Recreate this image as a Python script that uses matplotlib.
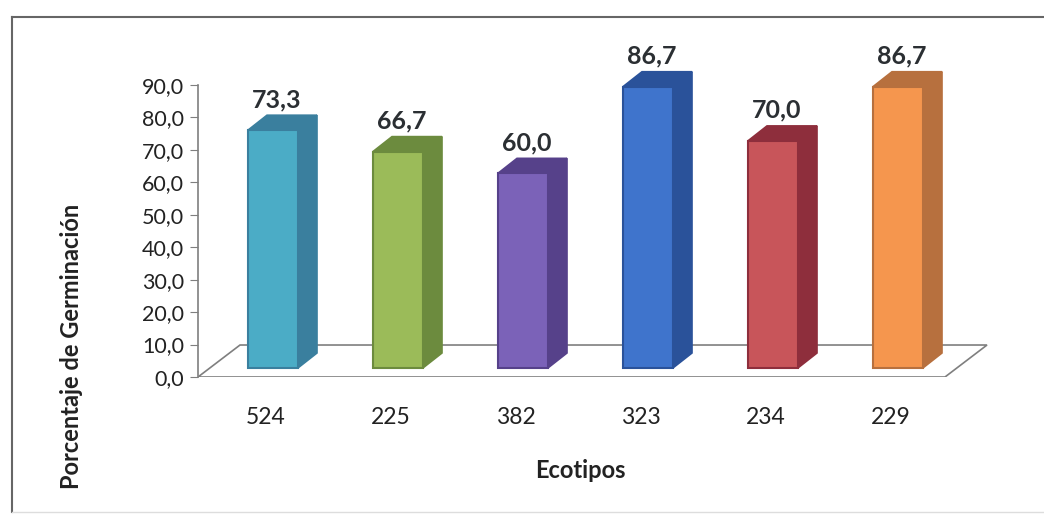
import matplotlib.pyplot as plt
from matplotlib.patches import Polygon
from matplotlib.lines import Line2D

ecotipos = ["524", "225", "382", "323", "234", "229"]
germinacion = [73.3, 66.7, 60.0, 86.7, 70.0, 86.7]
front_colors = ["#4BACC6", "#9BBB59", "#7B62B8", "#3F74CC", "#C8555A", "#F5964E"]
side_colors = ["#3A7F9E", "#6C8B3E", "#56418A", "#2A529A", "#8E2E3C", "#B7703E"]
yticks = [0, 10, 20, 30, 40, 50, 60, 70, 80, 90]

plt.rcParams['font.family'] = ['Lato', 'DejaVu Sans']

W, H = 1044, 515
fig = plt.figure(figsize=(W / 100, H / 100), dpi=100)

# axes mapped so 1 category = 125 px, 1 unit = 3.244 px
x_left, x_right = -0.6, 5.816
ax = fig.add_axes([198 / W, (H - 377) / H, 802 / W, 324.4 / H])
ax.set_xlim(x_left, x_right)
ax.set_ylim(0, 100)

bar_w = 0.4
dx, dy = 0.152, 4.6        # bar depth
lift = 2.8                 # bars sit in the middle of the floor
fdx, fdy = 0.336, 9.86     # floor depth

# floor
floor = Polygon([(x_left, 0), (5.376, 0), (5.376 + fdx, fdy), (x_left + fdx, fdy)],
                closed=True, facecolor="white", edgecolor="#7f7f7f", lw=1.2, zorder=1)
ax.add_patch(floor)

for i, v in enumerate(germinacion):
    x0 = i - bar_w / 2
    x1 = i + bar_w / 2
    y0 = lift
    y1 = v + lift
    ec = side_colors[i]
    front = Polygon([(x0, y0), (x1, y0), (x1, y1), (x0, y1)], closed=True,
                    facecolor=front_colors[i], edgecolor=ec, lw=1.5, zorder=3, clip_on=False)
    side = Polygon([(x1, y0), (x1 + dx, y0 + dy), (x1 + dx, y1 + dy), (x1, y1)], closed=True,
                   facecolor=side_colors[i], edgecolor=ec, lw=1.2, zorder=2, clip_on=False)
    top = Polygon([(x0, y1), (x1, y1), (x1 + dx, y1 + dy), (x0 + dx, y1 + dy)], closed=True,
                  facecolor=side_colors[i], edgecolor=ec, lw=1.2, zorder=2, clip_on=False)
    ax.add_patch(side)
    ax.add_patch(top)
    ax.add_patch(front)
    ax.text(i + 0.03, y1 + dy + 4.8, f"{v:.1f}".replace(".", ","), ha="center", va="center",
            fontsize=18, fontweight="bold", color="#2b2f33", clip_on=False)

for s in ["top", "right", "bottom"]:
    ax.spines[s].set_visible(False)
ax.spines["left"].set_bounds(0, 90)
ax.spines["left"].set_color("#7f7f7f")
ax.spines["left"].set_linewidth(1.2)
ax.set_yticks(yticks)
ax.set_yticklabels([f"{t:.1f}".replace(".", ",") for t in yticks])
ax.tick_params(axis="y", direction="out", length=6, color="#7f7f7f", labelsize=15.5,
               labelcolor="#222222", pad=4)
ax.set_xticks([])
for i, lab in enumerate(ecotipos):
    ax.text(i - 0.06, -12.5, lab, ha="center", va="center", fontsize=16.5, color="#222222",
            clip_on=False)

fig.text(580 / W, 1 - 470 / H, "Ecotipos", ha="center", va="center", fontsize=17,
         fontweight="bold", color="#222222")
fig.text(72 / W, 1 - 346 / H, "Porcentaje de Germinación", ha="center", va="center",
         fontsize=17, fontweight="bold", color="#222222", rotation=90)

# outer frame
fig.add_artist(Line2D([12 / W, 12 / W], [1 - 17 / H, 1 - 512 / H], color="#666666", lw=1.5))
fig.add_artist(Line2D([12 / W, 1.0], [1 - 17 / H, 1 - 17 / H], color="#666666", lw=1.5))
fig.add_artist(Line2D([12 / W, 1.0], [1 - 512 / H, 1 - 512 / H], color="#dddddd", lw=1))

fig.savefig("out.png", dpi=100)
